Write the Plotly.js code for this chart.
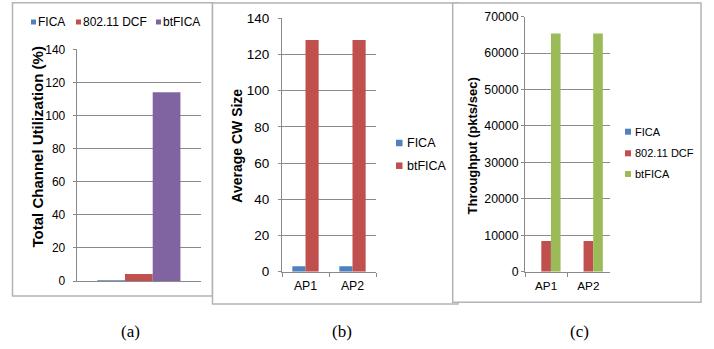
<!DOCTYPE html>
<html><head><meta charset="utf-8">
<script src="https://cdn.plot.ly/plotly-3.0.1.min.js"></script>
<style>html,body{margin:0;padding:0;background:#fff}#chart{width:714px;height:349px}</style>
</head><body><div id="chart"></div>
<script>
// ---------------- data ----------------
const catsA = ['All'];
const catsB = ['AP1', 'AP2'];
const catsC = ['AP1', 'AP2'];
const seriesA = ['FICA', '802.11 DCF', 'btFICA'];
const seriesB = ['FICA', 'btFICA'];
const seriesC = ['FICA', '802.11 DCF', 'btFICA'];
const utilFICA = [0.5];
const utilDCF = [4.3];
const utilBtFICA = [114];
const cwFICA = [3, 3];
const cwBtFICA = [128, 128];
const thrFICA = [0, 0];
const thrDCF = [8400, 8400];
const thrBtFICA = [65400, 65400];
const yTitles = ['Total Channel Utilization (%)', 'Average CW Size', 'Throughput (pkts/sec)'];
const captions = ['(a)', '(b)', '(c)'];

// ---------------- style ----------------
const W = 714, H = 349;
const px = x => x / W, py = y => 1 - y / H;
const BLUE = '#4F81BD', RED = '#C0504D', PURPLE = '#8064A2', GREEN = '#9BBB59';
const colA = [BLUE, RED, PURPLE], colB = [BLUE, RED], colC = [BLUE, RED, GREEN];
const GRID = '#8a8a8a', BOX = '#b3b3b3';
const SANS = 'Liberation Sans, Arial, sans-serif';

function bars(cats, vals, names, cols, w, xa, ya) {
  const n = vals.length;
  return vals.map((v, i) => ({
    type: 'bar', x: cats, y: v, name: names[i], xaxis: xa, yaxis: ya,
    width: w, offset: (i - n / 2) * w,
    marker: {color: cols[i], line: {width: 0}}, showlegend: false, hoverinfo: 'x+y+name'
  }));
}

const data = [
  ...bars(catsA, [utilFICA, utilDCF, utilBtFICA], seriesA, colA, 0.223, 'x', 'y'),
  ...bars(catsB, [cwFICA, cwBtFICA], seriesB, colB, 0.28, 'x2', 'y2'),
  ...bars(catsC, [thrFICA, thrDCF, thrBtFICA], seriesC, colC, 0.228, 'x3', 'y3')
];

function yax(dom, range, dtick, fsize, anchor, sep) {
  return {
    domain: dom, range: range, dtick: dtick, anchor: anchor, automargin: false,
    showgrid: true, gridcolor: GRID, gridwidth: 1, zeroline: false,
    showline: true, linecolor: GRID, linewidth: 1,
    ticks: 'outside', ticklen: 3, tickcolor: GRID, ticklabelstandoff: sep,
    tickfont: {family: SANS, size: fsize, color: '#000'}, tickformat: 'd'
  };
}
function xax(dom, range, anchor, showLabels, fsize) {
  return {
    domain: dom, range: range, anchor: anchor, automargin: false, type: 'category',
    showgrid: false, zeroline: false, showline: true, linecolor: GRID, linewidth: 1,
    ticks: showLabels ? 'outside' : '', tickson: 'boundaries', ticklen: 4, tickcolor: GRID,
    ticklabelstandoff: 3,
    showticklabels: showLabels, tickfont: {family: SANS, size: fsize, color: '#000'}
  };
}

const shapes = [
  {type: 'rect', xref: 'paper', yref: 'paper', x0: px(12.5), x1: px(212.5), y0: py(296), y1: py(2.7),
   line: {color: BOX, width: 1.5}, fillcolor: 'rgba(0,0,0,0)', layer: 'below'},
  {type: 'rect', xref: 'paper', yref: 'paper', x0: px(212.5), x1: px(458), y0: py(304), y1: py(3),
   line: {color: BOX, width: 1.5}, fillcolor: '#fff', layer: 'below'},
  {type: 'rect', xref: 'paper', yref: 'paper', x0: px(452.7), x1: px(701), y0: py(302.3), y1: py(3),
   line: {color: BOX, width: 1.5}, fillcolor: '#fff', layer: 'below'}
];
const annotations = [];

function legend(names, cols, sqX, txtX, yC, size, fsize) {
  names.forEach((nm, i) => {
    const sx = Array.isArray(sqX) ? sqX[i] : sqX;
    const tx = Array.isArray(txtX) ? txtX[i] : txtX;
    const yc = Array.isArray(yC) ? yC[i] : yC;
    shapes.push({type: 'rect', xref: 'paper', yref: 'paper', x0: px(sx), x1: px(sx + size),
      y0: py(yc + size / 2), y1: py(yc - size / 2), line: {width: 0}, fillcolor: cols[i]});
    annotations.push({xref: 'paper', yref: 'paper', x: px(tx), y: py(yc), xanchor: 'left', yanchor: 'middle',
      showarrow: false, text: nm, borderpad: 0, font: {family: SANS, size: fsize, color: '#000'}});
  });
}
legend(seriesA, colA, [31, 76, 156], [36.5, 82, 162], 22, 5, 12);
legend(seriesB, colB, 396, 405.5, [143, 165.7], 6.5, 12.5);
legend(seriesC, colC, 625, 633.5, [131.7, 153.3, 174], 6, 11);

// y-axis titles (rotated)
const titleX = [37, 236.7, 471.5], titleY = [147.5, 146, 146], titleSize = [15, 14, 13];
yTitles.forEach((t, i) => annotations.push({xref: 'paper', yref: 'paper', x: px(titleX[i]), y: py(titleY[i]),
  xanchor: 'center', yanchor: 'middle', textangle: -90, showarrow: false, text: t, borderpad: 0,
  font: {family: SANS, size: titleSize[i], color: '#000', weight: 'bold'}}));

const capX = [130, 342, 579];
captions.forEach((c, i) => annotations.push({xref: 'paper', yref: 'paper', x: px(capX[i]), y: py(331),
  xanchor: 'center', yanchor: 'middle', showarrow: false, text: c,
  font: {family: 'Liberation Serif, Times New Roman, serif', size: 17, color: '#000'}}));

const layout = {
  width: W, height: H, margin: {l: 0, r: 0, t: 0, b: 0},
  paper_bgcolor: '#fff', plot_bgcolor: 'rgba(0,0,0,0)', showlegend: false, barmode: 'group',
  xaxis: xax([px(76.7), px(201)], [-0.5, 0.5], 'y', false, 12),
  yaxis: yax([py(281), py(49.3)], [0, 140], 20, 12, 'x', 5),
  xaxis2: xax([px(282), px(376)], [-0.5, 1.5], 'y2', true, 12.3),
  yaxis2: yax([py(271.7), py(18.3)], [0, 140], 20, 13.5, 'x2', 6),
  xaxis3: xax([px(525), px(609.5)], [-0.5, 1.5], 'y3', true, 11.7),
  yaxis3: yax([py(271.7), py(16.7)], [0, 70000], 10000, 12.3, 'x3', 3.5),
  shapes: shapes, annotations: annotations
};
Plotly.newPlot('chart', data, layout, {displayModeBar: false, staticPlot: true});
</script></body></html>
